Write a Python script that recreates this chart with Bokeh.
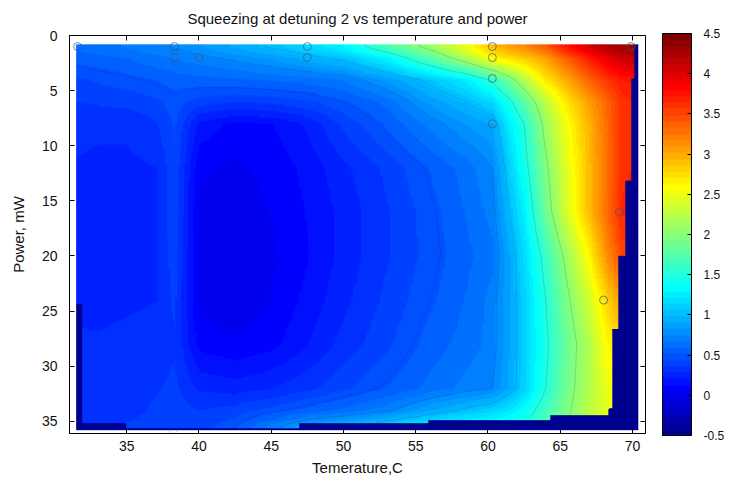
import numpy as np
from bokeh.plotting import figure
from bokeh.models import (LinearColorMapper, ColorBar, FixedTicker, LinearAxis,
                          Range1d, PrintfTickFormatter)
from bokeh.embed import file_html
from bokeh.resources import INLINE

# ---------------- data ----------------
temps = [31.5, 33, 35, 37, 38.3, 40, 42.5, 45, 47.5, 50, 53, 56, 58.5, 60.3,
         61.5, 62.5, 64, 65.5, 67, 68.3, 69.3, 70.3]
powers = [1, 2, 4, 6, 8, 12, 16, 20, 24, 28, 32, 34, 35.5]

sq_p01 = [0.62, 0.64, 0.68, 0.72, 0.76, 0.82, 0.92, 1.02, 1.15, 1.30, 1.70, 2.10, 2.50, 2.90, 3.05, 3.15, 3.40, 3.75, 4.05, 4.25, 4.32, 4.35]
sq_p02 = [0.55, 0.57, 0.60, 0.65, 0.68, 0.72, 0.78, 0.85, 0.95, 1.05, 1.30, 1.75, 2.20, 2.60, 2.75, 2.85, 3.05, 3.40, 3.70, 3.95, 4.10, 4.15]
sq_p04 = [0.42, 0.45, 0.48, 0.52, 0.55, 0.56, 0.58, 0.60, 0.63, 0.68, 0.85, 1.05, 1.25, 1.55, 1.90, 2.20, 2.70, 3.00, 3.35, 3.58, 3.72, 3.75]
sq_p06 = [0.36, 0.37, 0.38, 0.42, 0.48, 0.40, 0.36, 0.38, 0.42, 0.50, 0.62, 0.85, 1.00, 1.15, 1.45, 1.75, 2.25, 2.70, 3.05, 3.35, 3.60, 3.65]
sq_p08 = [0.31, 0.30, 0.30, 0.35, 0.45, 0.18, 0.10, 0.12, 0.22, 0.38, 0.53, 0.70, 0.83, 0.90, 1.25, 1.50, 2.10, 2.55, 2.95, 3.32, 3.62, 3.65]
sq_p12 = [0.27, 0.26, 0.26, 0.28, 0.42, 0.06, 0.03, 0.07, 0.15, 0.26, 0.38, 0.52, 0.63, 0.75, 1.10, 1.40, 1.95, 2.45, 2.90, 3.30, 3.62, 3.65]
sq_p16 = [0.27, 0.26, 0.26, 0.28, 0.42, 0.03, 0.00, 0.05, 0.13, 0.23, 0.35, 0.48, 0.60, 0.70, 1.00, 1.25, 1.85, 2.40, 2.90, 3.32, 3.65, 3.70]
sq_p20 = [0.27, 0.26, 0.26, 0.28, 0.40, 0.02, -0.02, 0.03, 0.12, 0.23, 0.35, 0.47, 0.57, 0.65, 0.90, 1.15, 1.60, 2.10, 2.60, 3.15, 3.50, 3.55]
sq_p24 = [0.27, 0.26, 0.27, 0.28, 0.38, 0.02, -0.02, 0.05, 0.15, 0.26, 0.38, 0.50, 0.60, 0.70, 0.90, 1.10, 1.50, 1.95, 2.35, 2.80, 3.10, 3.10]
sq_p28 = [0.29, 0.29, 0.30, 0.31, 0.35, 0.10, 0.06, 0.10, 0.20, 0.31, 0.42, 0.55, 0.63, 0.70, 0.90, 1.10, 1.45, 1.85, 2.20, 2.60, 2.80, 2.80]
sq_p32 = [0.31, 0.30, 0.32, 0.35, 0.38, 0.27, 0.24, 0.28, 0.34, 0.42, 0.52, 0.62, 0.70, 0.75, 0.92, 1.10, 1.50, 1.90, 2.20, 2.50, 2.55, 2.55]
sq_p34 = [0.31, 0.30, 0.32, 0.38, 0.40, 0.36, 0.40, 0.47, 0.55, 0.62, 0.72, 0.90, 1.03, 1.12, 1.22, 1.35, 1.65, 1.95, 2.25, 2.45, 2.50, 2.50]
sq_p355 = [0.31, 0.30, 0.38, 0.40, 0.40, 0.40, 0.50, 0.70, 0.90, 1.00, 1.15, 1.30, 1.40, 1.45, 1.50, 1.55, 1.70, 2.00, 2.30, 2.45, 2.50, 2.50]

# extent of the measured area (outside: no data, drawn dark navy)
right_edge_p = [3.9, 13.2, 20.0, 26.6, 33.8]
right_edge_t = [70.2, 69.95, 69.6, 69.1, 68.7, 68.4]
bottom_edge_t = [35.0, 47.0, 55.9, 64.4, 68.4]
bottom_edge_p = [35.15, 35.5, 35.15, 34.8, 34.4, 33.8]
left_edge_p = [24.4]
left_edge_t = [31.5, 31.9]

# measured points (circles)
meas_t = [31.6, 38.3, 47.5, 60.3, 69.9, 38.3, 40.0, 47.5, 60.3, 60.3, 60.3, 69.1, 68.0]
meas_p = [1.0, 1.0, 1.0, 1.0, 1.0, 2.0, 2.0, 2.0, 2.0, 3.9, 8.0, 16.0, 24.0]
faint_t = [47.5, 60.3, 60.3, 38.2]
faint_p = [3.9, 16.0, 24.0, 35.8]

x_ticks = [35, 40, 45, 50, 55, 60, 65, 70]
y_ticks = [0, 5, 10, 15, 20, 25, 30, 35]
cb_ticks = [-0.5, 0, 0.5, 1, 1.5, 2, 2.5, 3, 3.5, 4, 4.5]
contour_levels = [0.5, 0.75, 1.0, 1.5, 2.0]

# ---------------- surface ----------------
grid = np.array([sq_p01, sq_p02, sq_p04, sq_p06, sq_p08, sq_p12, sq_p16,
                 sq_p20, sq_p24, sq_p28, sq_p32, sq_p34, sq_p355])
t0, t1, p0, p1 = 31.5, 70.4, 0.8, 35.8
tt = np.linspace(t0, t1, 390)
pp = np.linspace(p0, p1, 351)
rows = np.array([np.interp(tt, temps, r) for r in grid])
field = np.array([np.interp(pp, powers, rows[:, j]) for j in range(len(tt))]).T
TT, PP = np.meshgrid(tt, pp)
rmax = np.array(right_edge_t)[np.searchsorted(right_edge_p, PP, side="right")]
bmax = np.array(bottom_edge_p)[np.searchsorted(bottom_edge_t, TT, side="right")]
lmin = np.array(left_edge_t)[np.searchsorted(left_edge_p, PP, side="right")]
mask = (TT > rmax) | (PP > bmax) | (TT < lmin)
img = field.copy()
img[mask] = np.nan


def jet(m):
    n4 = int(np.ceil(m / 4))
    u = np.concatenate([np.arange(1, n4 + 1) / n4, np.ones(n4 - 1),
                        np.arange(n4, 0, -1) / n4])
    g = int(np.ceil(n4 / 2)) - (1 if m % 4 == 1 else 0) + np.arange(1, len(u) + 1)
    r = g + n4
    b = g - n4
    J = np.zeros((m, 3))
    for arr, col in ((r, 0), (g, 1), (b, 2)):
        keep = (arr >= 1) & (arr <= m)
        J[arr[keep] - 1, col] = u[keep]
    return ["#%02x%02x%02x" % tuple(int(round(c * 255)) for c in row) for row in J]


palette = jet(64)
mapper = LinearColorMapper(palette=palette, low=-0.5, high=4.5, nan_color=palette[0])

FONT = "Liberation Sans"
TXT = "#111111"

p = figure(width=727, height=478, output_backend="svg", toolbar_location=None,
           x_range=Range1d(31.04, 70.9), y_range=Range1d(36.1, 0),
           min_border_left=69, min_border_right=81, min_border_top=35,
           min_border_bottom=44,
           title="Squeezing at detuning 2 vs temperature and power")
p.grid.visible = False
p.outline_line_color = "black"
p.outline_line_width = 1
p.title.align = "center"
p.title.vertical_align = "middle"
p.title.text_font = FONT
p.title.text_font_style = "normal"
p.title.text_font_size = "15px"
p.title.text_color = TXT
p.title.standoff = 15

p.image(image=[img], x=t0, y=p0, dw=t1 - t0, dh=p1 - p0, color_mapper=mapper)
p.contour(tt, pp, np.ma.masked_invalid(img), levels=contour_levels,
          line_color="#0a1a60", line_alpha=0.2, line_width=0.8)

p.scatter(meas_t, meas_p, marker="circle", size=8, fill_color=None,
          line_color="#45527a", line_alpha=0.7, line_width=1)
p.scatter(faint_t, faint_p, marker="circle", size=8, fill_color=None,
          line_color="#45527a", line_alpha=0.22, line_width=1)

for ax in (p.xaxis[0], p.yaxis[0]):
    ax.major_tick_in = 5
    ax.major_tick_out = 0
    ax.minor_tick_line_color = None
    ax.axis_line_color = "black"
    ax.major_label_text_font = FONT
    ax.major_label_text_font_size = "14px"
    ax.major_label_text_color = TXT
    ax.axis_label_text_font = FONT
    ax.axis_label_text_font_size = "15px"
    ax.axis_label_text_font_style = "normal"
    ax.axis_label_text_color = TXT

p.xaxis.ticker = FixedTicker(ticks=x_ticks)
p.yaxis.ticker = FixedTicker(ticks=y_ticks)
p.xaxis.axis_label = "Temerature,C"
p.yaxis.axis_label = "Power, mW"
p.xaxis.major_label_standoff = 7
p.xaxis.axis_label_standoff = 5
p.yaxis.major_label_standoff = 12
p.yaxis.axis_label_standoff = 12

# box ticks on the top and right edges (no labels)
top = LinearAxis(ticker=FixedTicker(ticks=x_ticks), major_tick_in=5, major_tick_out=0,
                 minor_tick_line_color=None, major_label_text_color=None,
                 major_label_text_font_size="1px", major_label_standoff=0,
                 axis_line_color=None)
right = LinearAxis(ticker=FixedTicker(ticks=y_ticks), major_tick_in=5, major_tick_out=0,
                   minor_tick_line_color=None, major_label_text_color=None,
                   major_label_text_font_size="1px", major_label_standoff=0,
                   axis_line_color=None)
p.add_layout(top, "above")
p.add_layout(right, "right")

cb = ColorBar(color_mapper=mapper, ticker=FixedTicker(ticks=cb_ticks),
              formatter=PrintfTickFormatter(format="%g"),
              width=29, height=402, location=(17, -2), margin=0, padding=0,
              label_standoff=12, major_label_text_font=FONT,
              major_label_text_font_size="12px", major_label_text_color=TXT,
              major_tick_in=4, major_tick_out=0, major_tick_line_color="black",
              bar_line_color="black", border_line_color=None,
              background_fill_color=None)
p.add_layout(cb, "right")

open("out.html", "w").write(file_html(p, INLINE))
